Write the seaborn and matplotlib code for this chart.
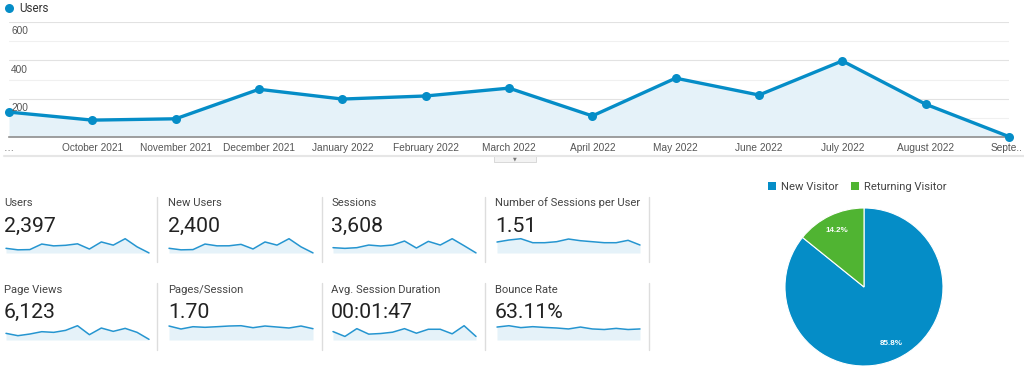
import matplotlib
matplotlib.use('Agg')
import matplotlib.pyplot as plt
from matplotlib.lines import Line2D
from matplotlib.patches import Rectangle
import pandas as pd
import seaborn as sns

# Monthly users (main chart)
months = ['…', 'October 2021', 'November 2021', 'December 2021', 'January 2022',
          'February 2022', 'March 2022', 'April 2022', 'May 2022', 'June 2022',
          'July 2022', 'August 2022', 'Septe..']
users = [130, 88, 95, 249, 198, 214, 255, 110, 307, 219, 397, 171, 2]

# Scorecards
card_titles = ['Users', 'New Users', 'Sessions', 'Number of Sessions per User',
               'Page Views', 'Pages/Session', 'Avg. Session Duration', 'Bounce Rate']
card_values = ['2,397', '2,400', '3,608', '1.51', '6,123', '1.70', '00:01:47', '63.11%']
new_users = [131, 88, 95, 249, 199, 200, 240, 112, 307, 219, 397, 171, 3]
sessions = [186, 162, 186, 278, 244, 278, 418, 174, 406, 278, 499, 255, 4]
sessions_per_user = [1.43, 1.69, 1.86, 1.34, 1.34, 1.47, 1.82, 1.60, 1.47, 1.34, 1.34, 1.65, 1.04]
page_views = [396, 257, 356, 495, 455, 574, 851, 317, 713, 515, 693, 455, 40]
pages_per_session = [1.83, 1.44, 1.74, 1.66, 1.74, 1.83, 1.87, 1.61, 1.83, 1.70, 1.57, 1.83, 1.48]
avg_duration_sec = [109, 46, 147, 76, 84, 101, 147, 88, 139, 139, 80, 185, 46]
bounce_rate = [68, 75, 65, 70, 66, 63, 58, 68, 58, 55, 61, 55, 58]
card_series = [users, new_users, sessions, sessions_per_user,
               page_views, pages_per_session, avg_duration_sec, bounce_rate]

# Visitor type pie
visitor_types = ['New Visitor', 'Returning Visitor']
visitor_share = [85.8, 14.2]

BLUE = '#058DC7'
GREEN = '#50B432'
FILL = '#E5F2F9'
ARIAL = ['Liberation Sans', 'DejaVu Sans']

sns.set_theme(style='white')
plt.rcParams['font.family'] = ['Roboto', 'DejaVu Sans']

W, H = 1024, 369
fig = plt.figure(figsize=(W / 100, H / 100), dpi=100)


def fx(px):
    return px / W


def fy(py):
    return 1 - py / H


def box(x0, y0, x1, y1):
    return [fx(x0), fy(y1), (x1 - x0) / W, (y1 - y0) / H]


# ---- main line chart ----
ax = fig.add_axes(box(9, 22, 1009, 137))
df = pd.DataFrame({'idx': range(len(users)), 'users': users})
for v in range(100, 700, 100):
    ax.axhline(v, color='#e2e2e2' if v % 200 == 0 else '#f0f0f0', lw=0.8, zorder=0)
ax.fill_between(df['idx'], df['users'], color=FILL, zorder=1, lw=0)
sns.lineplot(data=df, x='idx', y='users', ax=ax, color=BLUE, lw=2.4, marker='o',
             markersize=6.5, markeredgewidth=0, clip_on=False, zorder=3)
ax.set_xlim(0, 12)
ax.set_ylim(0, 600)
ax.set_yticks([])
# last (cut) month label is drawn separately so it stays inside the picture
ax.set_xticks(df['idx'][:-1])
ax.set_xticklabels(months[:-1], fontsize=7.3, color='#555555', family=ARIAL)
ax.tick_params(axis='x', length=0, pad=4.5)
ax.annotate(months[-1], xy=(df['idx'].iloc[-1], 0), xytext=(10, -4.5),
            textcoords='offset points', ha='right', va='top', fontsize=7.3,
            color='#555555', family=ARIAL, annotation_clip=False)
ax.set_xlabel('')
ax.set_ylabel('')
for s in ['top', 'left', 'right']:
    ax.spines[s].set_visible(False)
ax.spines['bottom'].set_color('#8f8f8f')
ax.spines['bottom'].set_linewidth(1.2)
for v in [200, 400, 600]:
    ax.annotate(str(v), xy=(0, v), xytext=(1.5, -3), textcoords='offset points',
                va='top', ha='left', fontsize=7.3, color='#555555', family=ARIAL)

# legend of main chart
fig.add_artist(Line2D([fx(9)], [fy(8)], marker='o', ms=6.5, color=BLUE, mew=0,
                      transform=fig.transFigure))
fig.text(fx(19), fy(11.5), 'Users', fontsize=8.4, color='#333333', va='baseline')

# bottom strip with toggle button
fig.add_artist(Line2D([fx(4), 1], [fy(155.5)] * 2, color='#e6e6e6', lw=1.5,
                      transform=fig.transFigure))
fig.add_artist(Rectangle((fx(494), fy(162)), 42 / W, 7 / H, fc='#f3f3f3', ec='#d3d3d3',
                         lw=0.6, transform=fig.transFigure))
fig.text(fx(515), fy(158.5), '▼', fontsize=3.5, color='#777777', ha='center', va='center',
         family=['DejaVu Sans'])

# ---- scorecards ----
col_x = [4, 168, 331, 495]
spark_x = [(6, 149), (169, 313), (333, 476), (497, 640)]
title_base = [205.5, 293]
value_base = [231.5, 318]
spark_y = [(238, 253), (325, 340)]
sep_x = [157, 322, 485, 649]
sep_y = [(197, 262), (283, 350)]

for i, (title, value, series) in enumerate(zip(card_titles, card_values, card_series)):
    r, c = divmod(i, 4)
    fig.text(fx(col_x[c]), fy(title_base[r]), title, fontsize=8.1, color='#444444', va='baseline')
    fig.text(fx(col_x[c]), fy(value_base[r]), value, fontsize=15.3, color='#222222', va='baseline')
    sax = fig.add_axes(box(spark_x[c][0], spark_y[r][0], spark_x[c][1], spark_y[r][1]))
    sdf = pd.DataFrame({'idx': range(len(series)), 'v': series})
    sax.fill_between(sdf['idx'], sdf['v'], color=FILL, lw=0)
    sns.lineplot(data=sdf, x='idx', y='v', ax=sax, color='#2595D0', lw=1.1, clip_on=False)
    sax.set_xlim(0, len(series) - 1)
    sax.set_ylim(0, max(series) * 1.05)
    sax.axis('off')

for r in range(2):
    for x in sep_x:
        fig.add_artist(Line2D([fx(x)] * 2, [fy(sep_y[r][0]), fy(sep_y[r][1])],
                              color='#dddddd', lw=1, transform=fig.transFigure))

# ---- pie chart ----
pax = fig.add_axes(box(785, 208, 943, 366))
wedges, texts, autotexts = pax.pie(
    visitor_share, colors=[BLUE, GREEN], startangle=90, counterclock=False,
    autopct='%1.1f%%', pctdistance=0.79, radius=1,
    wedgeprops=dict(edgecolor='white', linewidth=0.8),
    textprops=dict(color='white', fontsize=5.8, fontweight='bold', family=ARIAL))
pax.set_xlim(-1, 1)
pax.set_ylim(-1, 1)
pax.set_aspect('equal')

# pie legend
for (x0, x_txt), name, col in zip([(768, 781), (851, 864)], visitor_types, [BLUE, GREEN]):
    fig.add_artist(Rectangle((fx(x0), fy(189.5)), 8 / W, 8 / H, fc=col, ec='none',
                             transform=fig.transFigure))
    fig.text(fx(x_txt), fy(190), name, fontsize=8.1, color='#444444', va='baseline')

fig.savefig('out.png', dpi=100, facecolor='white')
